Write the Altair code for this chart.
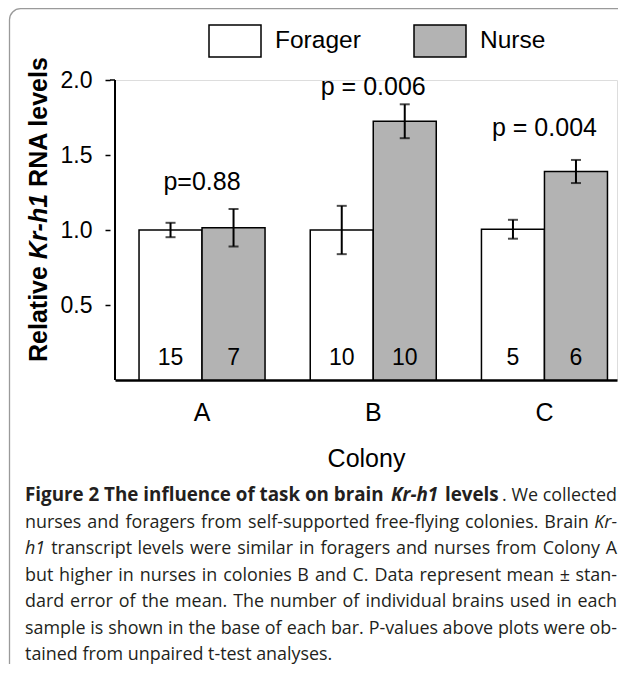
import altair as alt
import pandas as pd

# ---------------- data ----------------
colonies = ["A", "B", "C"]
groups = ["Forager", "Nurse"]
forager_mean = [1.00, 1.00, 1.005]
nurse_mean = [1.015, 1.725, 1.39]
forager_se = [0.048, 0.161, 0.063]
nurse_se = [0.125, 0.113, 0.077]
forager_n = [15, 10, 5]
nurse_n = [7, 10, 6]
p_labels = ["p=0.88", "p = 0.006", "p = 0.004"]
p_label_y = [1.265, 1.90, 1.625]

rows = []
for i, c in enumerate(colonies):
    for g, m, s, n in (("Forager", forager_mean, forager_se, forager_n),
                       ("Nurse", nurse_mean, nurse_se, nurse_n)):
        rows.append({"colony": c, "group": g, "mean": m[i],
                     "lo": m[i] - s[i], "hi": m[i] + s[i], "n": n[i]})
df = pd.DataFrame(rows)
pdf = pd.DataFrame({"colony": colonies, "label": p_labels, "py": p_label_y})

FONT = "Liberation Sans"
CAP_FONT = "Open Sans"
W, H = 502, 300
OX, OY = 115, 80  # page position of plot origin


def px(x):
    return x - OX


def py(y):
    return y - OY


x_enc = alt.X(
    "colony:N",
    scale=alt.Scale(domain=colonies, paddingInner=0.264, paddingOuter=0.098, align=0.716),
    axis=alt.Axis(title="Colony", labelAngle=0, ticks=False, domainColor="black",
                  domainWidth=2.5, labelFontSize=25, labelPadding=20, labelColor="black",
                  titleFontSize=25, titleFontWeight="normal", titleColor="black",
                  titlePadding=21, labelFont=FONT, titleFont=FONT),
)
xoff = alt.XOffset("group:N", scale=alt.Scale(domain=groups))
y_scale = alt.Scale(domain=[0, 2], nice=False, zero=True)

base = alt.Chart(df)

bars = base.mark_bar(stroke="black", strokeWidth=1.5).encode(
    x=x_enc,
    xOffset=xoff,
    y=alt.Y("mean:Q", scale=y_scale,
            axis=alt.Axis(values=[0.5, 1.0, 1.5, 2.0], format=".1f", title=None, offset=5,
                          domain=False, tickSize=5, tickColor="black", tickWidth=1.5,
                          labelFontSize=23, labelPadding=13, grid=False, labelColor="black",
                          labelFont=FONT)),
    color=alt.Color("group:N", scale=alt.Scale(domain=groups, range=["white", "#b3b3b3"]),
                    legend=alt.Legend(title=None, orient="none", legendX=93, legendY=-66,
                                      direction="horizontal", columns=2,
                                      symbolType="M-1,-0.615H1V0.615H-1Z", symbolSize=2704,
                                      symbolStrokeColor="black", symbolStrokeWidth=1.5,
                                      labelFontSize=24.5, labelOffset=13, columnPadding=50,
                                      labelColor="black", labelFont=FONT, padding=0,
                                      symbolOpacity=1)),
)

err = base.mark_rule(color="black", strokeWidth=2).encode(
    x=alt.X("colony:N"), xOffset=xoff, y=alt.Y("lo:Q", scale=y_scale), y2="hi:Q")
cap_lo = base.mark_tick(color="black", size=10, thickness=2).encode(
    x=alt.X("colony:N"), xOffset=xoff, y=alt.Y("lo:Q", scale=y_scale))
cap_hi = base.mark_tick(color="black", size=10, thickness=2).encode(
    x=alt.X("colony:N"), xOffset=xoff, y=alt.Y("hi:Q", scale=y_scale))

counts = base.mark_text(fontSize=23, font=FONT, color="black", baseline="middle").encode(
    x=alt.X("colony:N"), xOffset=xoff, y=alt.value(H - 22), text="n:Q")

pvals = alt.Chart(pdf).mark_text(fontSize=25, font=FONT, color="black",
                                 baseline="alphabetic").encode(
    x=alt.X("colony:N"), y=alt.Y("py:Q", scale=y_scale), text="label:N")

one = alt.Data(values=[{}])

yline = alt.Chart(one).mark_rule(color="black", strokeWidth=2).encode(
    x=alt.value(0), y=alt.value(0), y2=alt.value(H))
ycap = alt.Chart(one).mark_rule(color="black", strokeWidth=1.5).encode(
    x=alt.value(-5), x2=alt.value(0), y=alt.value(0))

frame = alt.Chart(one).mark_rect(filled=False, stroke="#9a9a9a", strokeWidth=1.3,
                                 cornerRadius=11).encode(
    x=alt.value(px(9.5)), y=alt.value(py(8.7)), x2=alt.value(800), y2=alt.value(900))


def txt(s, x, y, size, weight="normal", style="normal", angle=0, font=FONT,
        color="black", align="left"):
    return alt.Chart(one).mark_text(text=s, fontSize=size, fontWeight=weight,
                                    fontStyle=style, angle=angle, font=font,
                                    color=color, align=align,
                                    baseline="alphabetic").encode(
        x=alt.value(px(x)), y=alt.value(py(y)))


# y-axis title with italic gene name
TS = 25
ytitle = [
    txt("Relative", 47, 362, TS, "bold", angle=270),
    txt("Kr-h1", 47, 362 - 102.8, TS, "bold", "italic", angle=270),
    txt("RNA levels", 47, 362 - 102.8 - 65.3 - 7.0, TS, "bold", angle=270),
]

# ---------------- caption (justified between x=25 and x=617) ----------------
CS = 17.9
BS = 18.8
CC = "#231f20"
L, R = 25, 617
ly = [501 + 26.5 * i for i in range(7)]

# approximate Open Sans advance widths (units per 2048 em) used to justify lines
ADV = {" ": 532, ".": 545, "-": 659, "\u00b1": 1171, "1": 1171, "2": 1171,
       "A": 1296, "B": 1327, "C": 1292, "D": 1493, "K": 1208, "P": 1225, "T": 1104,
       "W": 1823, "a": 1139, "b": 1255, "c": 975, "d": 1255, "e": 1149, "f": 694,
       "g": 1122, "h": 1257, "i": 518, "j": 518, "k": 1075, "l": 518, "m": 1905,
       "n": 1257, "o": 1237, "p": 1255, "q": 1255, "r": 836, "s": 977, "t": 723,
       "u": 1257, "v": 1026, "w": 1593, "x": 1073, "y": 1028, "z": 977}


def width(s, size, italic=False):
    w = sum(ADV.get(ch, 1150) for ch in s) / 2048 * size * 0.99
    return w * (0.95 if italic else 1.0)


caption_lines = [
    [("nurses and foragers from self-supported free-flying colonies. Brain", "normal"),
     ("Kr-", "italic")],
    [("h1", "italic"),
     ("transcript levels were similar in foragers and nurses from Colony A", "normal")],
    [("but higher in nurses in colonies B and C. Data represent mean \u00b1 stan-", "normal")],
    [("dard error of the mean. The number of individual brains used in each", "normal")],
    [("sample is shown in the base of each bar. P-values above plots were ob-", "normal")],
]

caption = [
    txt("Figure 2 The influence of task on brain", L, ly[0], BS, "bold", font=CAP_FONT, color=CC),
    txt("Kr-h1", 391, ly[0], BS, "bold", "italic", font=CAP_FONT, color=CC),
    txt("levels", 445, ly[0], BS, "bold", font=CAP_FONT, color=CC),
    txt(". We collected", R, ly[0], CS, font=CAP_FONT, color=CC, align="right"),
]

for li, segs in enumerate(caption_lines, start=1):
    words = []
    for text, style in segs:
        for wd in text.split(" "):
            words.append((wd, style))
    ws = [width(wd, CS, st == "italic") for wd, st in words]
    gap = (R - L - sum(ws)) / (len(words) - 1)
    xpos = L
    for k, ((wd, st), w) in enumerate(zip(words, ws)):
        last = k == len(words) - 1
        caption.append(txt(wd, R if last else xpos, ly[li], CS, style=st, font=CAP_FONT,
                           color=CC, align="right" if last else "left"))
        xpos += w + gap

caption.append(txt("tained from unpaired t-test analyses.", L, ly[6], CS, font=CAP_FONT, color=CC))

chart = alt.layer(
    frame, bars, err, cap_lo, cap_hi, counts, pvals, yline, ycap, *ytitle, *caption
).properties(
    width=W, height=H,
    autosize=alt.AutoSizeParams(type="none"),
    padding={"left": OX - 8, "top": OY - 8, "right": 610 - (OX - 8) - W, "bottom": 656 - (OY - 8) - H},
).configure_view(stroke=None).configure(background="white")

chart.save("out.html", embed_options={"renderer": "svg", "actions": False})
